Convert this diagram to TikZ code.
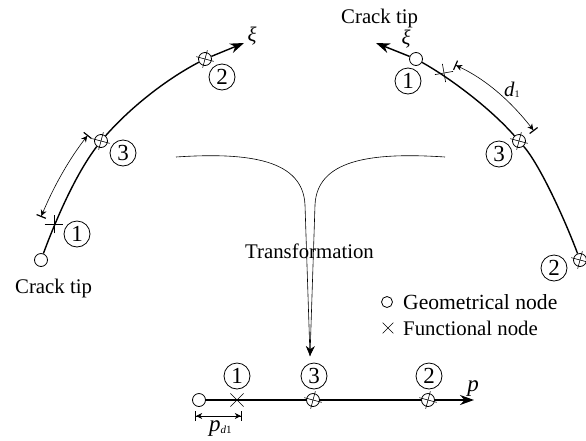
\documentclass[tikz,border=0pt]{standalone}
\usepackage{fontspec}
\setmainfont{Liberation Serif}
\usetikzlibrary{arrows.meta,shapes.misc}
\tikzset{
  txt/.style={font=\fontsize{20.8}{22}\selectfont,inner sep=0pt},
  num/.style={circle,draw,line width=0.8pt,minimum size=26pt,inner sep=0pt,font=\fontsize{23}{24}\selectfont},
  geo/.style={circle,draw,line width=0.8pt,minimum size=13pt,inner sep=0pt,fill=white},
  fun/.style={cross out,draw,line width=0.6pt,minimum size=12.5pt,inner sep=0pt},
  main/.style={line width=1.4pt},
  thinline/.style={line width=0.6pt},
  tipa/.style={-{Stealth[length=14pt,width=10pt]}},
  tipb/.style={-{Stealth[length=10pt,width=9pt]}},
  dimline/.style={line width=0.6pt,{Bar[width=10pt,line width=1.2pt]Stealth[length=6pt,width=6pt]}-{Stealth[length=6pt,width=6pt]Bar[width=10pt,line width=1.2pt]}}
}
\newcommand{\xcirc}[3]{%
  \node[geo,fill=none] (#1) at (#2) {};
  \draw[line width=0.6pt] ([shift={(#3:9)}]#1.center) -- ([shift={(#3+180:9)}]#1.center);
  \draw[line width=0.6pt] ([shift={(#3+90:9)}]#1.center) -- ([shift={(#3+270:9)}]#1.center);
}
\begin{document}
\begin{tikzpicture}[x=1pt,y=-1pt]
\useasboundingbox (0,0) rectangle (586,440);
% left arc
\node[geo] (lo) at (41,260) {};
\node[fun,rotate=45] (lx) at (54,224) {};
\xcirc{l3}{101,141}{15}
\xcirc{l2}{205,59}{15}
\coordinate (lend) at (244,43);
\draw[main] (lo) .. controls (55,222) and (75,175) .. (l3);
\draw[main] (l3) .. controls (130,108) and (165,80) .. (l2);
\draw[main,tipa] (l2) -- (lend);
\node[num] (ln1) at (77,234) {1};
\node[num] (ln3) at (123,153) {3};
\node[num] (ln2) at (222,77) {2};
\node[txt] (lxi) at (252,36) {\textit{ξ}};
\node[txt,anchor=base west] (lct) at (15,293) {Crack tip};
\coordinate (lda) at (41,217);
\coordinate (ldb) at (88,135);
\draw[dimline] (lda) .. controls (52,190) and (68,160) .. (ldb);
% right arc
\node[geo] (ro) at (416,59) {};
\node[fun,rotate=55] (rx) at (444,73) {};
\xcirc{r3}{519,141}{15}
\xcirc{r2}{580,260}{15}
\coordinate (rend) at (376,43);
\draw[main] (ro) .. controls (450,78) and (490,108) .. (r3);
\draw[main] (r3) .. controls (540,165) and (565,220) .. (r2);
\draw[main,tipa] (ro) -- (rend);
\node[num] (rn1) at (408,81) {1};
\node[num] (rn3) at (499,154) {3};
\node[num] (rn2) at (554,268) {2};
\node[txt] (rxi) at (406,39) {\textit{ξ}};
\node[txt,anchor=base west] (rct) at (341,23) {Crack tip};
\coordinate (rda) at (455,65);
\coordinate (rdb) at (534,131);
\draw[dimline] (rda) .. controls (485,78) and (512,102) .. (rdb);
\node[txt,anchor=base west] (d1) at (504,96) {\textit{d}\raisebox{-1.5pt}{\fontsize{10}{10}\selectfont 1}};
% transformation
\coordinate (ts) at (176,157);
\coordinate (te) at (445,157);
\coordinate (tt) at (310,356);
\draw[thinline] (ts) .. controls (250,152) and (303,160) .. (305,205) -- (tt);
\draw[thinline,tipb] (te) .. controls (370,152) and (317,160) .. (315,205) -- (tt);
\node[txt,anchor=base west] (tr) at (245,258) {Transformation};
% legend
\node[geo,minimum size=11pt] (gl) at (387,302) {};
\node[txt,anchor=base west,font=\fontsize{21.6}{22}\selectfont] (gt) at (403,309) {Geometrical node};
\node[fun,minimum size=10pt] (fl) at (388,328) {};
\node[txt,anchor=base west] (ft) at (403,335) {Functional node};
% bottom line
\node[geo] (bo) at (199,400) {};
\node[fun] (bx) at (237,400) {};
\xcirc{b3}{313,400}{15}
\xcirc{b2}{428,400}{15}
\coordinate (bend) at (474,400);
\draw[main] (bo) -- (b3);
\draw[main] (b3) -- (b2);
\draw[main,tipa] (b2) -- (bend);
\node[num] (bn1) at (237,376) {1};
\node[num] (bn3) at (314,376) {3};
\node[num] (bn2) at (429,376) {2};
\node[txt,font=\fontsize{23}{24}\selectfont] (bp) at (473,389) {\textit{p}};
\coordinate (bda) at (195,416);
\coordinate (bdb) at (242,416);
\draw[dimline] (bda) -- (bdb);
\node[txt,anchor=base west,font=\fontsize{23}{24}\selectfont] (pd) at (209,431) {\textit{p}\raisebox{-2pt}{\fontsize{11}{11}\selectfont\textit{d}1}};
\end{tikzpicture}
\end{document}
